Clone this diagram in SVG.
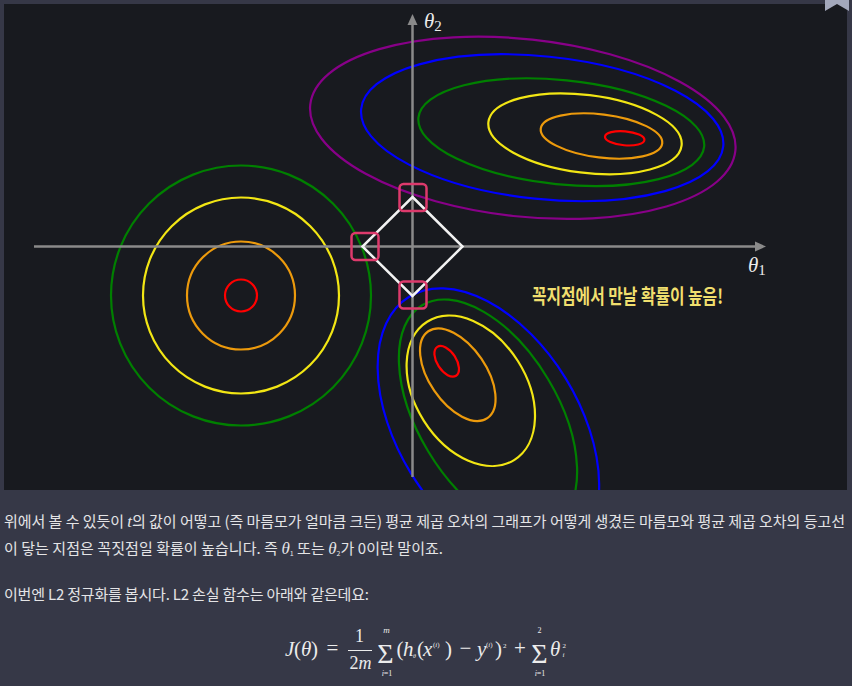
<svg xmlns="http://www.w3.org/2000/svg" width="852" height="686" viewBox="0 0 852 686">
<style>
.c{fill:none;stroke-width:2.2}
.body{font-family:"Noto Sans CJK KR","Noto Sans",sans-serif;font-size:15px;fill:#e4e4e6}
.mi{font-family:"Liberation Serif","DejaVu Serif",serif;font-style:italic}
.math{font-family:"Liberation Serif","DejaVu Serif",serif;fill:#ececec}
.it{font-style:italic}
.ax{stroke:#8a8a8a;stroke-width:2.5;fill:none}
.sq{fill:none;stroke:#dd3a6c;stroke-width:2.5}
</style>
<defs>
<clipPath id="plot"><rect x="4" y="4" width="843" height="486"/></clipPath>
</defs>
<rect width="852" height="686" fill="#363847"/>
<rect x="4" y="4" width="843" height="486" fill="#181a1f"/>
<polygon points="825,0 849,0 849,11 837,4 825,11" fill="#a3a8bb"/>
<g id="contours" clip-path="url(#plot)">
<g id="top-right">
<ellipse class="c" stroke="#880088" stroke-width="2" cx="522.8" cy="127.8" rx="213.8" ry="88.7" transform="rotate(6.2 522.8 127.8)"/>
<ellipse class="c" stroke="#0000ff" stroke-width="2.5" cx="542.2" cy="127.7" rx="182" ry="71.3" transform="rotate(5.9 542.2 127.7)"/>
<ellipse class="c" stroke="#008000" cx="561.3" cy="132.2" rx="143.6" ry="52.1" transform="rotate(5.8 561.3 132.2)"/>
<ellipse class="c" stroke="#f2e614" cx="585" cy="133.8" rx="97.3" ry="38.9" transform="rotate(7 585 133.8)"/>
<ellipse class="c" stroke="#ec9a0c" cx="601.5" cy="136" rx="61.2" ry="21.6" transform="rotate(7 601.5 136)"/>
<ellipse class="c" stroke="#ff0000" cx="624.7" cy="138.3" rx="19.8" ry="7" transform="rotate(5 624.7 138.3)"/>
</g>
<g id="left">
<circle class="c" stroke="#008000" cx="241" cy="295.5" r="130"/>
<circle class="c" stroke="#f2e614" cx="241" cy="295.5" r="98"/>
<circle class="c" stroke="#ec9a0c" cx="241" cy="295.5" r="54"/>
<circle class="c" stroke="#ff0000" cx="241" cy="295.5" r="16"/>
</g>
<g id="bottom">
<ellipse class="c" stroke="#0000ff" cx="488.4" cy="426" rx="151.6" ry="90.8" transform="rotate(58.5 488.4 426)"/>
<ellipse class="c" stroke="#008000" cx="488" cy="415" rx="128" ry="70" transform="rotate(59 488 415)"/>
<ellipse class="c" stroke="#f2e614" cx="470.8" cy="390.8" rx="81.7" ry="55.7" transform="rotate(57.7 470.8 390.8)"/>
<ellipse class="c" stroke="#ec9a0c" cx="457.8" cy="374.7" rx="52.5" ry="28.5" transform="rotate(55.8 457.8 374.7)"/>
<ellipse class="c" stroke="#ff0000" cx="446.7" cy="361.3" rx="17.2" ry="9.5" transform="rotate(57 446.7 361.3)"/>
</g>
</g>
<g id="axes">
<line class="ax" x1="34" y1="246.5" x2="756" y2="246.5"/>
<polygon points="766,246.5 755,241.5 755,251.5" fill="#8a8a8a"/>
<line class="ax" x1="412.5" y1="477" x2="412.5" y2="25"/>
<polygon points="412.5,14 407.5,25 417.5,25" fill="#8a8a8a"/>
<text class="math" x="748" y="272" font-size="21" fill="#e8e8e8"><tspan class="it">θ</tspan><tspan font-size="15" dy="3">1</tspan></text>
<text class="math" x="424" y="28" font-size="21" fill="#e8e8e8"><tspan class="it">θ</tspan><tspan font-size="15" dy="3">2</tspan></text>
</g>
<g id="diamond">
<polygon points="412.5,197 462.5,246.5 412.5,296 362.5,246.5" fill="none" stroke="#f2f2f2" stroke-width="2.5" stroke-linejoin="miter"/>
</g>
<g id="vertex-marks">
<rect class="sq" x="399.5" y="184" width="27" height="27" rx="4"/>
<rect class="sq" x="351.5" y="233" width="27" height="27" rx="4"/>
<rect class="sq" x="399.5" y="281.5" width="27" height="27" rx="4"/>
</g>
<g id="note">
<text x="532" y="304" font-family="'Noto Sans CJK KR',sans-serif" font-size="20" font-weight="bold" fill="#f0df6e" textLength="191" lengthAdjust="spacingAndGlyphs">꼭지점에서 만날 확률이 높음!</text>
</g>
<g id="body-text">
<text class="body" x="4" y="527" textLength="841" lengthAdjust="spacing">위에서 볼 수 있듯이 <tspan class="mi" font-size="17">t</tspan>의 값이 어떻고 (즉 마름모가 얼마큼 크든) 평균 제곱 오차의 그래프가 어떻게 생겼든 마름모와 평균 제곱 오차의 등고선</text>
<text class="body" x="4" y="554" textLength="439" lengthAdjust="spacing">이 닿는 지점은 꼭짓점일 확률이 높습니다. 즉 <tspan class="mi" font-size="17">θ</tspan><tspan font-size="7" dy="2">1</tspan><tspan dy="-2"> 또는 </tspan><tspan class="mi" font-size="17">θ</tspan><tspan font-size="7" dy="2">2</tspan><tspan dy="-2">가 0이란 말이죠.</tspan></text>
<text class="body" x="4" y="600" textLength="365" lengthAdjust="spacing">이번엔 L2 정규화를 봅시다. L2 손실 함수는 아래와 같은데요:</text>
</g>
<g id="formula" class="math">
<text x="285" y="656" font-size="21" textLength="33"><tspan class="it">J</tspan>(<tspan class="it">θ</tspan>)</text>
<text x="332.5" y="655" font-size="21" text-anchor="middle">=</text>
<text x="359.5" y="642" font-size="18" text-anchor="middle">1</text>
<line x1="348" y1="650.5" x2="372" y2="650.5" stroke="#ececec" stroke-width="1"/>
<text x="360.5" y="669" font-size="18" text-anchor="middle">2<tspan class="it">m</tspan></text>
<text x="385.5" y="663" font-size="28" text-anchor="middle">Σ</text>
<text x="386.5" y="633" font-size="9" text-anchor="middle" class="it">m</text>
<text x="387" y="676" font-size="8" text-anchor="middle"><tspan class="it">i</tspan>=1</text>
<text x="396.5" y="656" font-size="21">(</text>
<text x="403" y="656" font-size="21" class="it">h</text>
<text x="413" y="658" font-size="6" class="it">θ</text>
<text x="417" y="656" font-size="21">(</text>
<text x="423" y="656" font-size="21" class="it">x</text>
<text x="433" y="647" font-size="7">(<tspan class="it">i</tspan>)</text>
<text x="445" y="656" font-size="21">)</text>
<text x="465.5" y="655" font-size="21" text-anchor="middle">−</text>
<text x="477" y="656" font-size="21" class="it">y</text>
<text x="486" y="647" font-size="7">(<tspan class="it">i</tspan>)</text>
<text x="495" y="656" font-size="21">)</text>
<text x="503" y="648" font-size="7">2</text>
<text x="520" y="655" font-size="21" text-anchor="middle">+</text>
<text x="539.5" y="663" font-size="28" text-anchor="middle">Σ</text>
<text x="539.5" y="633" font-size="8" text-anchor="middle">2</text>
<text x="540" y="676" font-size="8" text-anchor="middle"><tspan class="it">i</tspan>=1</text>
<text x="550" y="656" font-size="21" class="it">θ</text>
<text x="562.5" y="648" font-size="7">2</text>
<text x="562.5" y="657" font-size="7" class="it">i</text>
</g>
</svg>
